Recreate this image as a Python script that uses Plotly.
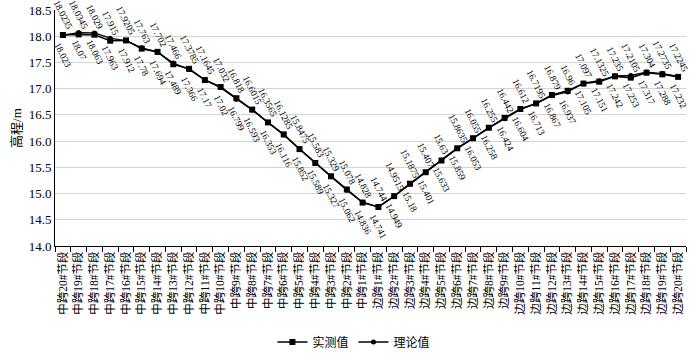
import plotly.graph_objects as go

categories = [f"中跨{i}#节段" for i in range(20, 0, -1)] + [f"边跨{i}#节段" for i in range(1, 21)]

measured = [18.0235, 18.0345, 18.029, 17.915, 17.9205, 17.763, 17.702, 17.466, 17.3785, 17.1645,
            17.032, 16.818, 16.6015, 16.3565, 16.1285, 15.8475, 15.583, 15.329, 15.078, 14.828,
            14.744, 14.9515, 15.1875, 15.407, 15.63, 15.8635, 16.055, 16.255, 16.442, 16.612,
            16.7195, 16.879, 16.96, 17.097, 17.1325, 17.235, 17.2105, 17.304, 17.2735, 17.2245]

theory = [18.023, 18.07, 18.063, 17.963, 17.912, 17.78, 17.694, 17.489, 17.366, 17.17,
          17.02, 16.799, 16.593, 16.353, 16.116, 15.852, 15.589, 15.327, 15.062, 14.836,
          14.741, 14.949, 15.18, 15.401, 15.633, 15.859, 16.053, 16.258, 16.424, 16.604,
          16.713, 16.867, 16.937, 17.105, 17.151, 17.242, 17.253, 17.317, 17.288, 17.232]

FONT = "Liberation Serif, Times New Roman, Noto Sans CJK SC, serif"

fig = go.Figure()
fig.add_trace(go.Scatter(x=categories, y=measured, name="实测值", mode="lines+markers",
                         line=dict(color="black", width=1.6),
                         marker=dict(symbol="square", size=6, color="black")))
fig.add_trace(go.Scatter(x=categories, y=theory, name="理论值", mode="lines+markers",
                         line=dict(color="black", width=1.3),
                         marker=dict(symbol="circle", size=5, color="black")))

annotations = []
for c, v in zip(categories, measured):
    annotations.append(dict(x=c, y=v, xref="x", yref="y", text=f"{v:g}", showarrow=False,
                            textangle=63, xanchor="center", yanchor="bottom", yshift=1,
                            font=dict(family=FONT, size=9.5, color="black")))
for c, v in zip(categories, theory):
    annotations.append(dict(x=c, y=v, xref="x", yref="y", text=f"{v:g}", showarrow=False,
                            textangle=63, xanchor="center", yanchor="top", yshift=-3,
                            font=dict(family=FONT, size=9.5, color="black")))

fig.update_layout(
    width=694, height=357,
    margin=dict(l=55, r=8, t=10, b=111, autoexpand=False),
    paper_bgcolor="white", plot_bgcolor="white",
    font=dict(family=FONT, color="black"),
    annotations=annotations,
    showlegend=True,
    legend=dict(orientation="h", xref="container", yref="container",
                x=0.51, xanchor="center", y=0.042, yanchor="middle",
                font=dict(family=FONT, size=12), itemwidth=30, tracegroupgap=0),
    xaxis=dict(type="category", categoryorder="array", categoryarray=categories,
               range=[-0.5, len(categories) - 0.5], autorange=False,
               tickangle=-90, tickfont=dict(family=FONT, size=11.5), automargin=False,
               showline=True, linecolor="black", linewidth=1,
               ticks="outside", tickson="boundaries", ticklen=5, tickcolor="black",
               showgrid=False),
    yaxis=dict(range=[14, 18.5], dtick=0.5, tickformat=".1f", automargin=False,
               tickfont=dict(family=FONT, size=13),
               title=dict(text="高程/m", font=dict(family=FONT, size=13), standoff=4),
               showline=True, linecolor="black", linewidth=1,
               showgrid=True, gridcolor="#d4d4d4", gridwidth=1, zeroline=False),
)

fig.write_html("out.html", config={"displayModeBar": False},
               post_script="document.body.style.margin='0';document.body.style.overflow='hidden';")
